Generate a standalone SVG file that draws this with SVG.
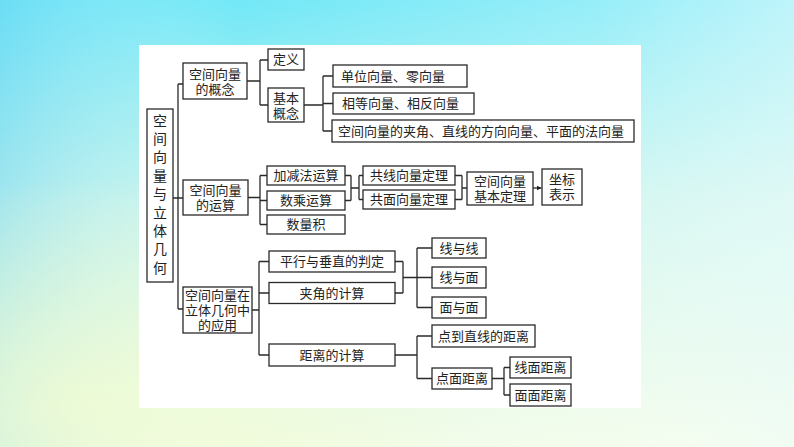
<svg xmlns="http://www.w3.org/2000/svg" width="794" height="447" viewBox="0 0 794 447">
<defs>
<linearGradient id="bgv" x1="0" y1="0" x2="0" y2="1">
<stop offset="0" stop-color="#72e8f7"/>
<stop offset="0.45" stop-color="#c6f4ec"/>
<stop offset="1" stop-color="#f1fce6"/>
</linearGradient>
<linearGradient id="bgh" x1="0" y1="0" x2="1" y2="0">
<stop offset="0" stop-color="#5ccaf2" stop-opacity="0.35"/>
<stop offset="0.3" stop-color="#ffffff" stop-opacity="0"/>
<stop offset="0.75" stop-color="#ffffff" stop-opacity="0.25"/>
<stop offset="1" stop-color="#f0fcfc" stop-opacity="0.6"/>
</linearGradient>
<radialGradient id="bgy" cx="0.1" cy="0.9" r="0.5">
<stop offset="0" stop-color="#f2fcd0" stop-opacity="0.8"/>
<stop offset="1" stop-color="#f2fcd0" stop-opacity="0"/>
</radialGradient>
<marker id="arr" viewBox="0 0 6 6" refX="6" refY="3" markerWidth="5" markerHeight="5" orient="auto" markerUnits="userSpaceOnUse">
<path d="M0,0 L6,3 L0,6 z" fill="#222"/>
</marker>
<style>
.b{fill:#fff;stroke:#2a2a2a;stroke-width:1.3}
.t{font-family:"Liberation Serif","Noto Sans CJK SC","Noto Sans CJK TC",serif;font-size:13px;fill:#222;dominant-baseline:central;text-anchor:middle}
.l{text-anchor:start}
.r{font-size:14px}
.c{fill:none;stroke:#2a2a2a;stroke-width:1.3}
</style>
</defs>
<rect x="0" y="0" width="794" height="447" fill="url(#bgv)"/>
<rect x="0" y="0" width="794" height="447" fill="url(#bgh)"/>
<rect x="0" y="0" width="794" height="447" fill="url(#bgy)"/>
<rect x="139" y="45" width="502" height="363" fill="#fff"/>

<g id="connectors">
<path class="c" d="M173,198 H178 M178,84 V309 M178,84 H183 M178,198 H183 M178,309 H183"/>
<path class="c" d="M247,81 H260 M260,60 V105 M260,60 H268 M260,105 H268"/>
<path class="c" d="M304,105 H323 M323,76 V131 M323,76 H333 M323,103.5 H333 M323,131 H332"/>
<path class="c" d="M248,197.5 H260 M260,175.5 V224.5 M260,175.5 H267 M260,200.5 H267 M260,224.5 H267"/>
<path class="c" d="M345,175.5 H351 M345,200.5 H351 M351,175.5 V200.5 M351,188 H359 M359,175.5 V199.5 M359,175.5 H363 M359,199.5 H363"/>
<path class="c" d="M455,175.5 H462 M455,199.5 H462 M462,175.5 V199.5 M462,188 H467"/>
<path class="c" d="M533,188 H541.5" marker-end="url(#arr)"/>
<path class="c" d="M252,310 H259 M259,261.5 V355 M259,261.5 H269 M259,293 H269 M259,355 H269"/>
<path class="c" d="M395,261.5 H403 M395,293 H403 M403,261.5 V293 M403,277.5 H417 M417,248 V307.5 M417,248 H432 M417,277.5 H432 M417,307.5 H432"/>
<path class="c" d="M395,355 H417 M417,336 V378.5 M417,336 H432 M417,378.5 H432"/>
<path class="c" d="M492,378.5 H504 M504,367.5 V395 M504,367.5 H510 M504,395 H510"/>
</g>

<g id="root">
<rect class="b" x="147" y="109" width="26" height="173"/>
<text class="t r" x="160" y="121">空</text>
<text class="t r" x="160" y="139.4">间</text>
<text class="t r" x="160" y="157.8">向</text>
<text class="t r" x="160" y="176.2">量</text>
<text class="t r" x="160" y="194.6">与</text>
<text class="t r" x="160" y="213">立</text>
<text class="t r" x="160" y="231.4">体</text>
<text class="t r" x="160" y="249.8">几</text>
<text class="t r" x="160" y="268.2">何</text>
</g>

<g id="concept">
<rect class="b" x="183" y="63" width="64" height="36"/>
<text class="t" x="215" y="74">空间向量</text>
<text class="t" x="215" y="89">的概念</text>
</g>
<g id="definition">
<rect class="b" x="268" y="49" width="36" height="21"/>
<text class="t" x="286" y="59.5">定义</text>
</g>
<g id="basic">
<rect class="b" x="268" y="88" width="36" height="34"/>
<text class="t" x="286" y="98">基本</text>
<text class="t" x="286" y="113">概念</text>
</g>
<g id="unit">
<rect class="b" x="333" y="65" width="134" height="22"/>
<text class="t l" x="341" y="76">单位向量、零向量</text>
</g>
<g id="equal">
<rect class="b" x="333" y="93" width="141" height="21"/>
<text class="t l" x="342" y="103.5">相等向量、相反向量</text>
</g>
<g id="angle">
<rect class="b" x="332" y="120" width="302" height="22"/>
<text class="t l" x="338" y="131">空间向量的夹角、直线的方向向量、平面的法向量</text>
</g>

<g id="operation">
<rect class="b" x="183" y="180" width="65" height="35"/>
<text class="t" x="215.5" y="190">空间向量</text>
<text class="t" x="215.5" y="205">的运算</text>
</g>
<g id="addsub">
<rect class="b" x="267" y="166" width="78" height="19"/>
<text class="t" x="306" y="175.5">加减法运算</text>
</g>
<g id="scalar">
<rect class="b" x="267" y="191" width="78" height="19"/>
<text class="t" x="306" y="200.5">数乘运算</text>
</g>
<g id="dot">
<rect class="b" x="267" y="215" width="78" height="19"/>
<text class="t" x="306" y="224.5">数量积</text>
</g>
<g id="collinear">
<rect class="b" x="363" y="166" width="92" height="19"/>
<text class="t" x="409" y="175.5">共线向量定理</text>
</g>
<g id="coplanar">
<rect class="b" x="363" y="190" width="92" height="19"/>
<text class="t" x="409" y="199.5">共面向量定理</text>
</g>
<g id="basis">
<rect class="b" x="467" y="172" width="66" height="33"/>
<text class="t" x="500" y="181">空间向量</text>
<text class="t" x="500" y="196">基本定理</text>
</g>
<g id="coord">
<rect class="b" x="542" y="169" width="40" height="36"/>
<text class="t" x="562" y="179.5">坐标</text>
<text class="t" x="562" y="194.5">表示</text>
</g>

<g id="application">
<rect class="b" x="183" y="287" width="69" height="46"/>
<text class="t" x="217.5" y="295.5">空间向量在</text>
<text class="t" x="217.5" y="310.5">立体几何中</text>
<text class="t" x="217.5" y="325.5">的应用</text>
</g>
<g id="parallel">
<rect class="b" x="269" y="251" width="126" height="21"/>
<text class="t" x="332" y="261.5">平行与垂直的判定</text>
</g>
<g id="anglecalc">
<rect class="b" x="269" y="282.5" width="126" height="21"/>
<text class="t" x="332" y="293">夹角的计算</text>
</g>
<g id="distcalc">
<rect class="b" x="269" y="344" width="126" height="22"/>
<text class="t" x="332" y="355">距离的计算</text>
</g>
<g id="lineline">
<rect class="b" x="432" y="238" width="54" height="20"/>
<text class="t" x="459" y="248">线与线</text>
</g>
<g id="lineplane">
<rect class="b" x="432" y="267" width="54" height="21"/>
<text class="t" x="459" y="277.5">线与面</text>
</g>
<g id="planeplane">
<rect class="b" x="432" y="297" width="54" height="21"/>
<text class="t" x="459" y="307.5">面与面</text>
</g>
<g id="pointline">
<rect class="b" x="432" y="325" width="103" height="22"/>
<text class="t" x="483.5" y="336">点到直线的距离</text>
</g>
<g id="pointplane">
<rect class="b" x="432" y="368" width="60" height="21"/>
<text class="t" x="462" y="378.5">点面距离</text>
</g>
<g id="lineplanedist">
<rect class="b" x="510" y="357" width="61" height="21"/>
<text class="t" x="540.5" y="367.5">线面距离</text>
</g>
<g id="planeplanedist">
<rect class="b" x="510" y="384" width="61" height="22"/>
<text class="t" x="540.5" y="395">面面距离</text>
</g>
</svg>
